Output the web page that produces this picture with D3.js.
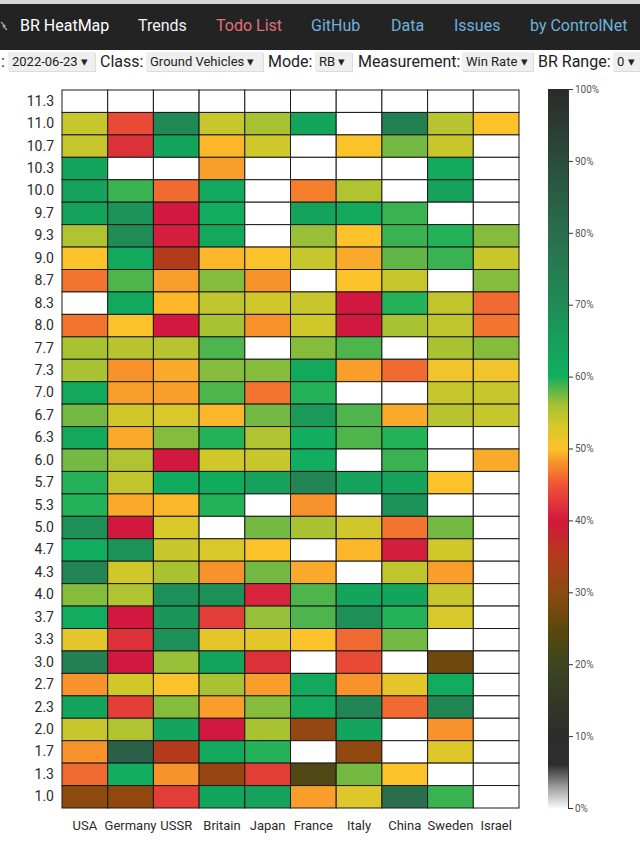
<!DOCTYPE html>
<html>
<head>
<meta charset="utf-8">
<script src="https://cdn.jsdelivr.net/npm/d3@7"></script>
<style>
  html, body { margin: 0; padding: 0; background: #fff; }
  svg { display: block; font-family: Roboto, "Noto Sans", sans-serif; }
</style>
</head>
<body>
<svg id="chart" width="640" height="852"></svg>
<script>
// ---------- data ----------
const countries = ["USA", "Germany", "USSR", "Britain", "Japan", "France", "Italy", "China", "Sweden", "Israel"];
const brLabels = ["11.3","11.0","10.7","10.3","10.0","9.7","9.3","9.0","8.7","8.3","8.0","7.7","7.3","7.0","6.7","6.3",
                  "6.0","5.7","5.3","5.0","4.7","4.3","4.0","3.7","3.3","3.0","2.7","2.3","2.0","1.7","1.3","1.0"];
// win rate (%) per BR, top (11.3) to bottom (1.0); null = no data
const usa     = [null,54,54,63,64,64,55.5,50,46.5,null,46.5,56,56,62,57.5,62,57.5,59.5,59.5,69,61,72,57,61,52,74,48,63,54,48,46,30];
const germany = [null,44,42,null,59,68,70,62,58.5,62,50,55,48,48.5,53.5,49,55.5,54.5,49,40,68,53.5,55.5,40,42,40,53.5,43,55.5,84,60.5,30.5];
const ussr    = [null,71,63,null,46,40,40.5,35,48.5,49.5,40,55,49,48.5,53,57,40,61.5,49.5,53,54,56,69,67,69,56.5,50,57,63,35,48,43];
const britain = [null,54,49.5,48.5,62,61,62,49.5,57,54.5,56,58.5,57,58.5,49.5,59.5,53.5,61.5,59.5,null,53,48,69,43,52,63,56,48.5,40,62,31.5,63];
const japan   = [null,56,53.5,null,null,null,null,50,48,53.5,48,null,57,46.5,57.5,55.5,54,64,null,57.5,50,57.5,41,56.5,52,42,48.5,57,56,59.5,43,64];
const france  = [null,63,null,null,47,64,56.5,54,null,54,53.5,57,62,59.5,66,60.5,60.5,72,48,56,null,49,58.5,58.5,50,null,62,62,31,null,23,48.5];
const italy   = [null,null,50,null,55.5,62,50,49,50,40,40,58.5,48.5,null,58.5,58.5,null,64,null,53.5,49.5,null,63,69,46,44,48,72,63,30.5,57.5,52.5];
const china   = [null,74,57.5,null,null,59,59,58,54,59.5,56,null,46,null,49,59.5,59,64,68,46.5,40.5,54.5,63,59.5,57.5,null,52,46,null,null,50,80];
const sweden  = [null,55,54,62,64,null,59.5,59,null,54.5,54.5,56,51,54,55,null,null,50,null,57.5,53.5,48.5,54,53,null,27,61,72,48,52.5,null,59];
const israel  = [null,50,null,null,null,null,57,54,57,46,46.5,57,51,54,54,null,49,null,null,null,null,null,null,null,null,null,null,null,null,null,null,null];
const seriesByCountry = [usa, germany, ussr, britain, japan, france, italy, china, sweden, israel];

// colour scale stops (win rate % -> colour)
const stopValues = [0, 3, 6, 10, 20, 25, 30, 35, 40, 45, 48, 50, 53, 56, 58, 60, 70, 80, 90, 100];
const stopColors = ["#f4fafa","#9a9a9a","#2e2e2e","#2c2c2c","#3c4620","#5c480c","#8c4a0e","#b43a1c","#d2183e","#ee5634",
                    "#f8922a","#fcc22a","#d8c82a","#a8c232","#62b646","#0fb05e","#1f8c56","#2a6e4e","#2b4c3c","#2a2a2a"];
const legendTicks = [0,10,20,30,40,50,60,70,80,90,100];

const navItems = [
  {t:"BR HeatMap", x:20, c:"#ffffff"},
  {t:"Trends", x:138, c:"#f2f2f2"},
  {t:"Todo List", x:216, c:"#e0707c"},
  {t:"GitHub", x:311, c:"#6cb2dc"},
  {t:"Data", x:391, c:"#6cb2dc"},
  {t:"Issues", x:454, c:"#6cb2dc"},
  {t:"by ControlNet", x:530, c:"#6cb2dc"}
];
const controls = [
  {type:"label", t:":", x:1},
  {type:"select", t:"2022-06-23", x:8, w:87},
  {type:"label", t:"Class:", x:100},
  {type:"select", t:"Ground Vehicles", x:146, w:117},
  {type:"label", t:"Mode:", x:268},
  {type:"select", t:"RB", x:315, w:37},
  {type:"label", t:"Measurement:", x:358},
  {type:"select", t:"Win Rate", x:462, w:71},
  {type:"label", t:"BR Range:", x:538},
  {type:"select", t:"0", x:613, w:32}
];

// ---------- drawing ----------
const svg = d3.select("#chart");

// nav bar
svg.append("rect").attr("x",0).attr("y",0).attr("width",640).attr("height",50).attr("fill","#232323");
svg.append("rect").attr("x",0).attr("y",0).attr("width",640).attr("height",4).attr("fill","#d6d6d6");
svg.append("path").attr("d","M1,22 L5,26 L3,26 L7,30").attr("stroke","#aaa").attr("fill","none").attr("stroke-width",1.2);
svg.selectAll("text.nav").data(navItems).join("text")
  .attr("class","nav")
  .attr("x", d => d.x).attr("y", 31)
  .attr("fill", d => d.c)
  .style("font-size","16px")
  .text(d => d.t);

// controls row
const cg = svg.append("g");
controls.forEach(d => {
  if (d.type === "label") {
    cg.append("text").attr("x", d.x).attr("y", 67)
      .attr("fill","#222").style("font-size","16px").text(d.t);
  } else {
    cg.append("rect").attr("x", d.x + 1).attr("y", 53).attr("width", d.w).attr("height", 19)
      .attr("fill","#dcdcdc");
    cg.append("rect").attr("x", d.x).attr("y", 52).attr("width", d.w).attr("height", 19)
      .attr("fill","#efefef");
    cg.append("text").attr("x", d.x + 4).attr("y", 66)
      .attr("fill","#222").style("font-size","13px").text(d.t + " \u25BE");
  }
});

// heatmap
const x = d3.scaleBand().domain(countries).range([62, 519]).padding(0);
const y = d3.scaleBand().domain(brLabels).range([90, 808]).padding(0);
const color = d3.scaleLinear().domain(stopValues).range(stopColors).interpolate(d3.interpolateRgb).clamp(true);

const cells = [];
countries.forEach((c, ci) => {
  brLabels.forEach((b, bi) => {
    cells.push({country: c, br: b, v: seriesByCountry[ci][bi]});
  });
});

svg.append("g").selectAll("rect").data(cells).join("rect")
  .attr("x", d => x(d.country))
  .attr("y", d => y(d.br))
  .attr("width", x.bandwidth())
  .attr("height", y.bandwidth())
  .attr("fill", d => d.v == null ? "#ffffff" : color(d.v))
  .attr("stroke", "#1a1a1a")
  .attr("stroke-width", 1);

// axes
const yAxis = svg.append("g").attr("transform", "translate(62,0)")
  .call(d3.axisLeft(y).tickSize(0).tickPadding(8));
yAxis.select(".domain").remove();
yAxis.selectAll("text").style("font-size","14px").style("font-family","Roboto, sans-serif").attr("fill","#2a2a2a");

const xAxis = svg.append("g").attr("transform", "translate(0,808)")
  .call(d3.axisBottom(x).tickSize(0).tickPadding(13));
xAxis.select(".domain").remove();
xAxis.selectAll("text").style("font-size","13px").style("font-family","Roboto, sans-serif").attr("fill","#2a2a2a");

// legend
const lg = svg.append("defs").append("linearGradient")
  .attr("id","legendGrad").attr("x1","0").attr("y1","1").attr("x2","0").attr("y2","0");
lg.selectAll("stop").data(stopValues).join("stop")
  .attr("offset", d => d / 100)
  .attr("stop-color", (d, i) => stopColors[i]);

const ly = d3.scaleLinear().domain([0, 100]).range([808, 89]);
svg.append("rect").attr("x", 548).attr("y", ly(100)).attr("width", 20).attr("height", ly(0) - ly(100))
  .attr("fill", "url(#legendGrad)");
const la = svg.append("g").attr("transform","translate(568,0)")
  .call(d3.axisRight(ly).tickValues(legendTicks).tickFormat(d => d + "%").tickSize(5).tickPadding(2));
la.select(".domain").attr("stroke","#333");
la.selectAll("line").attr("stroke","#333");
la.selectAll("text").style("font-size","10px").style("font-family","Roboto, sans-serif").attr("fill","#555");
</script>
</body>
</html>
